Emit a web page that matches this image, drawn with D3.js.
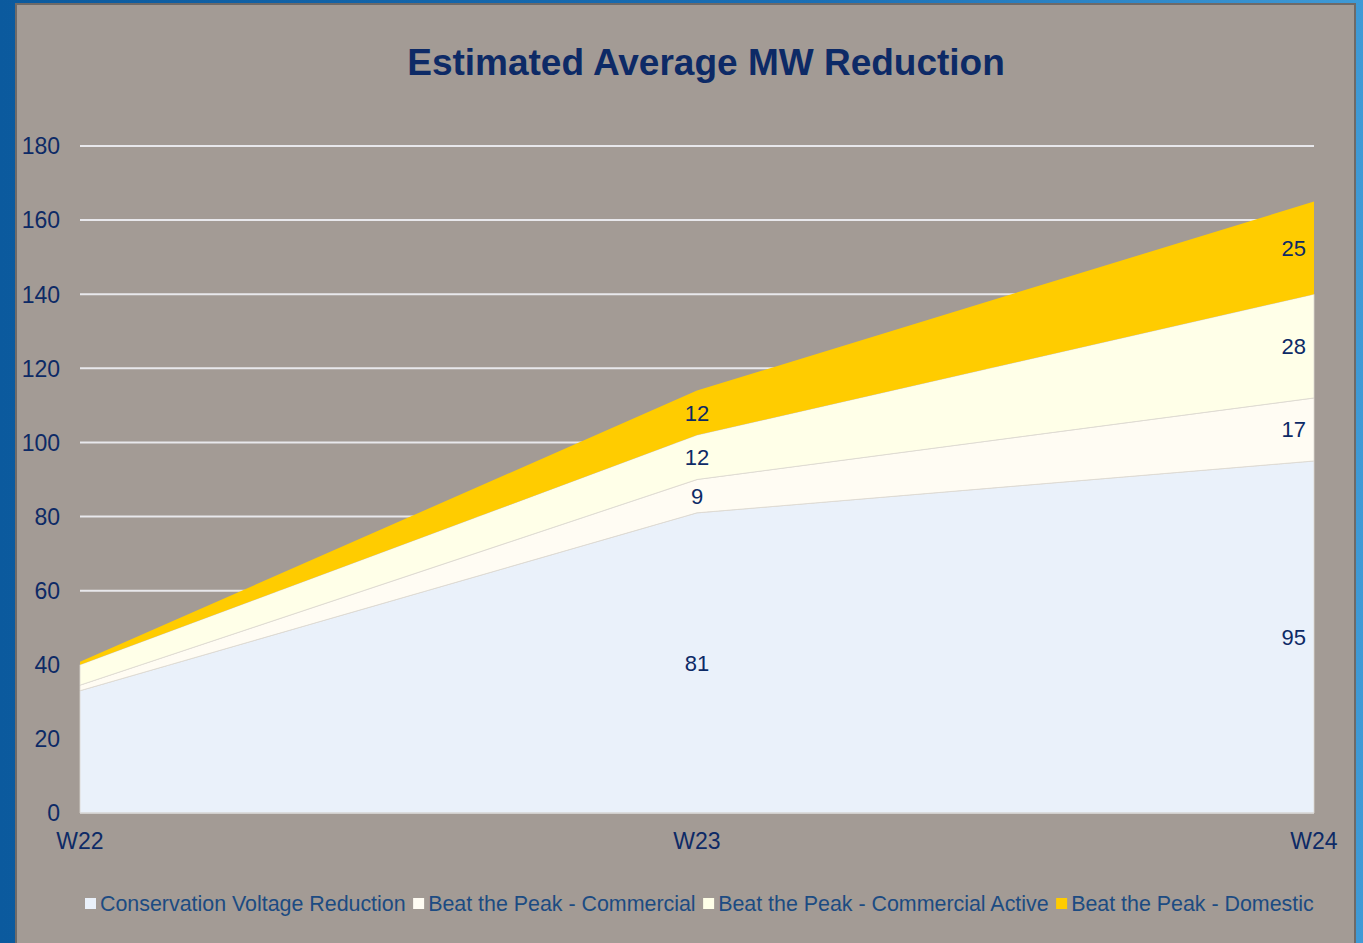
<!DOCTYPE html>
<html>
<head>
<meta charset="utf-8">
<script src="https://cdn.jsdelivr.net/npm/d3@7"></script>
<style>
  body { margin: 0; background: #0b5a9e; }
  svg { display: block; font-family: Arial, "Liberation Sans", sans-serif; }
</style>
</head>
<body>
<div id="chart"></div>
<script>
// data
const weeks = ['W22', 'W23', 'W24']
const seriesNames = [
  'Conservation Voltage Reduction',
  'Beat the Peak - Commercial',
  'Beat the Peak - Commercial Active',
  'Beat the Peak - Domestic',
]
const cvrValues = [33, 81, 95]
const commercialValues = [1.5, 9, 17]
const activeValues = [5.5, 12, 28]
const domesticValues = [0.8, 12, 25]
const yTicks = [0, 20, 40, 60, 80, 100, 120, 140, 160, 180]
const showLabels = [false, true, true] // W22 labels are not shown

const colors = ['#eaf1fa', '#fffcf3', '#ffffe8', '#ffcc00']

const drawChart = () => {
  const width = 1363
  const height = 943
  const margin = { top: 146, right: 49, bottom: 130, left: 80 }
  const innerWidth = width - margin.left - margin.right
  const innerHeight = height - margin.top - margin.bottom

  const svg = d3.select('#chart').append('svg')
    .attr('width', width)
    .attr('height', height)

  // blue frame + gray panel
  const grad = svg.append('defs').append('linearGradient')
    .attr('id', 'frame').attr('x1', 0).attr('x2', 1).attr('y1', 0).attr('y2', 0)
  grad.append('stop').attr('offset', '0%').attr('stop-color', '#0b5a9e')
  grad.append('stop').attr('offset', '60%').attr('stop-color', '#1a6fb5')
  grad.append('stop').attr('offset', '100%').attr('stop-color', '#3f9ad6')
  svg.append('rect').attr('width', width).attr('height', height).attr('fill', 'url(#frame)')
  svg.append('rect')
    .attr('x', 16).attr('y', 4)
    .attr('width', 1339).attr('height', 950)
    .attr('fill', '#a39b95')
    .attr('stroke', '#6e6a68').attr('stroke-width', 2)

  svg.append('text')
    .attr('x', 706).attr('y', 75)
    .attr('text-anchor', 'middle')
    .attr('fill', '#0d2a66')
    .attr('font-size', 37)
    .attr('font-weight', 'bold')
    .text('Estimated Average MW Reduction')

  const g = svg.append('g').attr('transform', `translate(${margin.left}, ${margin.top})`)

  const xScale = d3.scalePoint().domain(weeks).range([0, innerWidth])
  const yScale = d3.scaleLinear().domain([0, 180]).range([innerHeight, 0])

  // gridlines
  g.append('g')
    .selectAll('line')
    .data(yTicks.filter(d => d > 0))
    .join('line')
    .attr('x1', 0).attr('x2', innerWidth)
    .attr('y1', d => yScale(d)).attr('y2', d => yScale(d))
    .attr('stroke', '#e8e8ec').attr('stroke-width', 2)

  // stacked data
  const table = weeks.map((w, i) => ({
    week: w,
    [seriesNames[0]]: cvrValues[i],
    [seriesNames[1]]: commercialValues[i],
    [seriesNames[2]]: activeValues[i],
    [seriesNames[3]]: domesticValues[i],
  }))
  const stacked = d3.stack().keys(seriesNames)(table)

  const area = d3.area()
    .x(d => xScale(d.data.week))
    .y0(d => yScale(d[0]))
    .y1(d => yScale(d[1]))

  g.append('g')
    .selectAll('path')
    .data(stacked)
    .join('path')
    .attr('d', area)
    .attr('fill', (d, i) => colors[i])
    .attr('stroke', (d, i) => i === 3 ? 'none' : '#dcd8d0')
    .attr('stroke-width', 0.8)

  // baseline
  g.append('line')
    .attr('x1', 0).attr('x2', innerWidth)
    .attr('y1', innerHeight).attr('y2', innerHeight)
    .attr('stroke', '#d9d9d9').attr('stroke-width', 1.5)

  // value labels
  const labels = []
  stacked.forEach(layer => {
    layer.forEach((d, i) => {
      if (showLabels[i]) labels.push({ i, mid: (d[0] + d[1]) / 2, value: d[1] - d[0] })
    })
  })
  g.append('g')
    .selectAll('text')
    .data(labels)
    .join('text')
    .attr('x', d => d.i === weeks.length - 1 ? xScale(weeks[d.i]) - 8 : xScale(weeks[d.i]))
    .attr('y', d => yScale(d.mid))
    .attr('dy', '0.36em')
    .attr('text-anchor', d => d.i === weeks.length - 1 ? 'end' : 'middle')
    .attr('fill', '#0d2a66')
    .attr('font-size', 22)
    .text(d => d.value)

  // y axis labels
  g.append('g')
    .selectAll('text')
    .data(yTicks)
    .join('text')
    .attr('x', -20)
    .attr('y', d => yScale(d))
    .attr('dy', '0.36em')
    .attr('text-anchor', 'end')
    .attr('fill', '#0d2a66')
    .attr('font-size', 23)
    .text(d => d)

  // x axis labels
  g.append('g')
    .selectAll('text')
    .data(weeks)
    .join('text')
    .attr('x', d => xScale(d))
    .attr('y', innerHeight + 36)
    .attr('text-anchor', 'middle')
    .attr('fill', '#0d2a66')
    .attr('font-size', 23)
    .text(d => d)

  // legend
  const legend = svg.append('g').attr('transform', 'translate(85, 903)')
  let xPos = 0
  seriesNames.forEach((name, i) => {
    legend.append('rect')
      .attr('x', xPos).attr('y', -5)
      .attr('width', 11).attr('height', 11)
      .attr('fill', colors[i])
    const t = legend.append('text')
      .attr('x', xPos + 15)
      .attr('y', 0)
      .attr('dy', '0.36em')
      .attr('fill', '#1c4b82')
      .attr('font-size', 21.4)
      .text(name)
    xPos += 15 + t.node().getComputedTextLength() + 7.5
  })
}

drawChart()
</script>
</body>
</html>
